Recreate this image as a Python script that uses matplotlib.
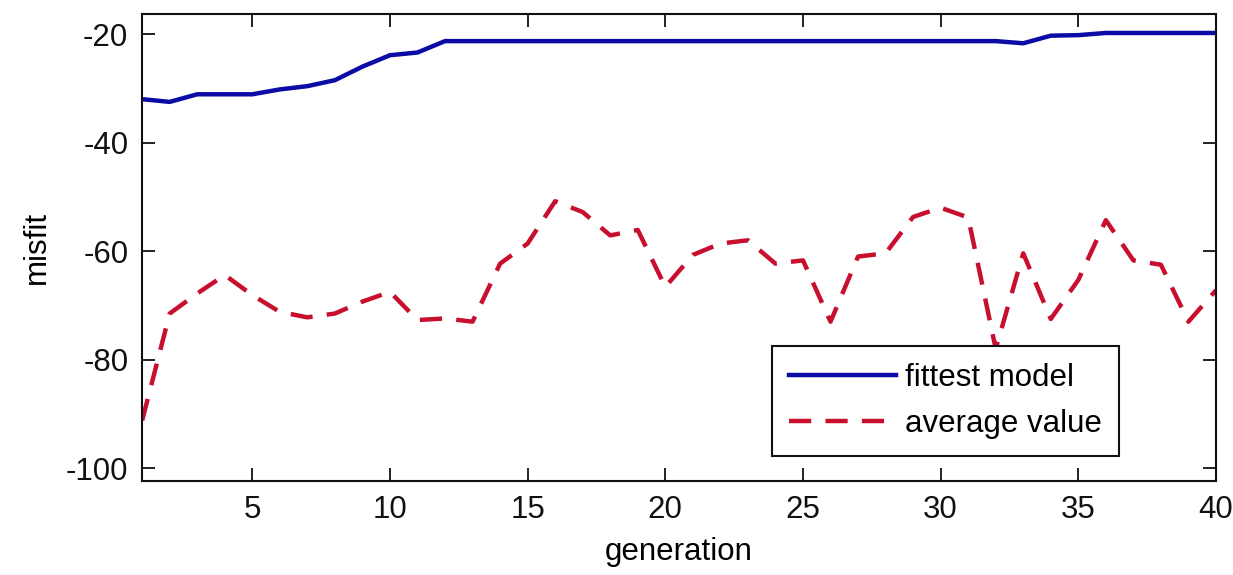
import matplotlib
matplotlib.use("Agg")
import matplotlib.pyplot as plt
from matplotlib import font_manager

# ---- data -------------------------------------------------------------
generation = list(range(1, 41))

fittest_model = [
    -32.0, -32.5, -31.1, -31.1, -31.1, -30.2, -29.6, -28.5, -26.0, -23.9,
    -23.4, -21.3, -21.3, -21.3, -21.3, -21.3, -21.3, -21.3, -21.3, -21.3,
    -21.3, -21.3, -21.3, -21.3, -21.3, -21.3, -21.3, -21.3, -21.3, -21.3,
    -21.3, -21.3, -21.7, -20.3, -20.2, -19.8, -19.8, -19.8, -19.8, -19.8,
]

average_value = [
    -91.2, -71.5, -67.8, -64.4, -68.1, -71.2, -72.2, -71.5, -69.3, -67.5,
    -72.7, -72.4, -73.0, -62.3, -58.6, -50.8, -52.8, -57.1, -56.1, -66.6,
    -60.7, -58.6, -58.0, -62.3, -61.7, -73.0, -61.0, -60.4, -53.7, -52.0,
    -53.8, -78.0, -60.4, -72.5, -65.3, -54.3, -61.7, -62.5, -73.0, -67.2,
]

series_labels = ["fittest model", "average value"]
x_ticks = [5, 10, 15, 20, 25, 30, 35, 40]
y_ticks = [-100, -80, -60, -40, -20]

# ---- style ------------------------------------------------------------
available = {f.name for f in font_manager.fontManager.ttflist}
family = [f for f in ["Liberation Sans Narrow", "Liberation Sans", "DejaVu Sans"]
          if f in available]
plt.rcParams["font.family"] = family
plt.rcParams["axes.unicode_minus"] = False
FS = 22.5

blue = "#0b0ba6"
red = "#c8102e"

fig = plt.figure(figsize=(12.33, 5.75), dpi=100, facecolor="white")
ax = fig.add_axes([0.1153, 0.164, 0.8709, 0.8117])

ax.plot(generation, fittest_model, color=blue, lw=3.2,
        solid_joinstyle="miter", label=series_labels[0])
ax.plot(generation, average_value, color=red, lw=3.2,
        linestyle=(0, (5.0, 3.2)), dash_capstyle="butt",
        label=series_labels[1])

ax.set_xlim(1, 40)
ax.set_ylim(-102.3, -16.3)
ax.set_xticks(x_ticks)
ax.set_yticks(y_ticks)
ax.tick_params(direction="in", length=9.4, width=1.3, top=True, right=True,
               pad=10, labelsize=FS, colors="#111111")
for s in ax.spines.values():
    s.set_linewidth(1.5)
    s.set_color("#111111")

ax.set_xlabel("generation", fontsize=FS, labelpad=9)
ax.set_ylabel("misfit", fontsize=FS, labelpad=10)

leg = ax.legend(loc="lower right", bbox_to_anchor=(0.9097, 0.0529),
                frameon=True, fancybox=False, framealpha=1.0,
                edgecolor="#111111", fontsize=FS, handlelength=3.4,
                handletextpad=0.3, borderpad=0.55, labelspacing=0.5,
                borderaxespad=0)
leg.get_frame().set_linewidth(1.5)

fig.savefig("out.png", dpi=100, facecolor="white")
